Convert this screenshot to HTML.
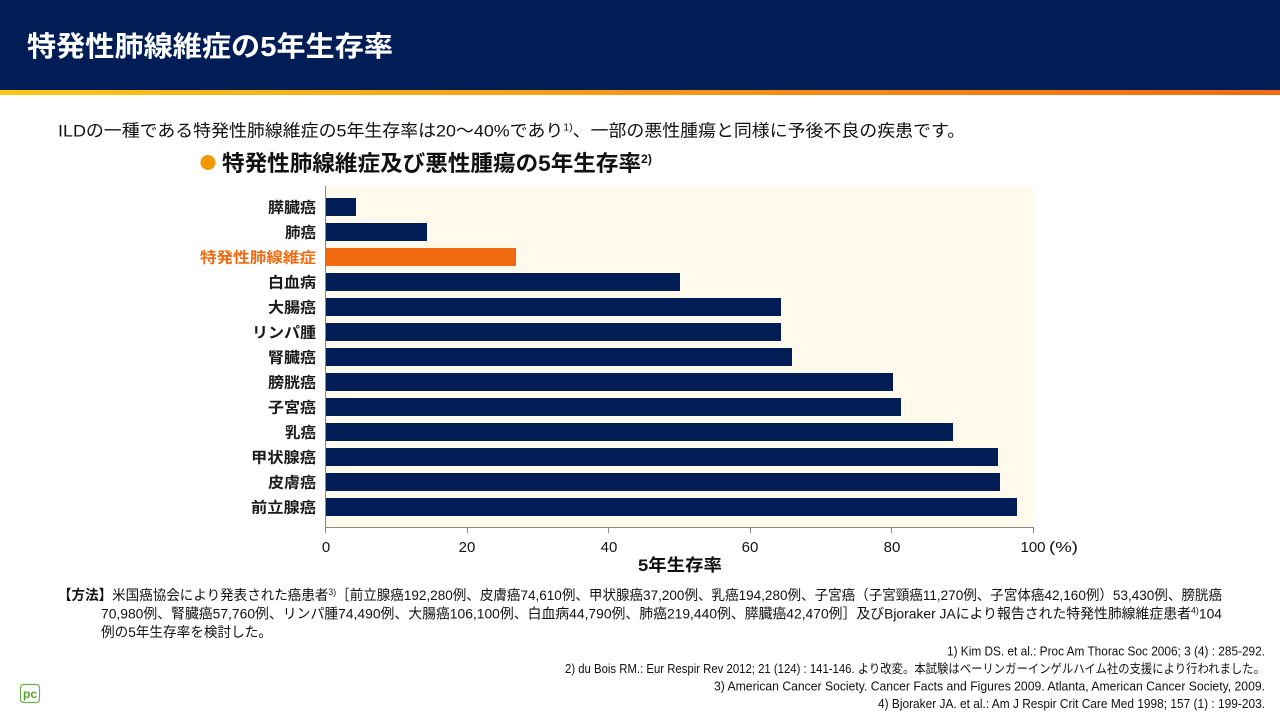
<!DOCTYPE html>
<html>
<head>
<meta charset="utf-8">
<style>
  html,body{margin:0;padding:0;background:#fff;}
  svg{display:block;}
  text{font-family:"Liberation Sans","Noto Sans CJK JP",sans-serif;}
</style>
</head>
<body>
<svg width="1280" height="720" viewBox="0 0 1280 720" xmlns="http://www.w3.org/2000/svg">
  <defs>
    <linearGradient id="stripe" x1="0" y1="0" x2="1" y2="0">
      <stop offset="0" stop-color="#f8c81c"/>
      <stop offset="1" stop-color="#f26a12"/>
    </linearGradient>
  </defs>
  <rect x="0" y="0" width="1280" height="720" fill="#ffffff"/>
  <!-- header -->
  <rect x="0" y="0" width="1280" height="90" fill="#001e55"/>
  <rect x="0" y="90" width="1280" height="5" fill="url(#stripe)"/>
  <text x="27" y="56" font-size="28" font-weight="bold" fill="#ffffff" textLength="366" lengthAdjust="spacingAndGlyphs">特発性肺線維症の5年生存率</text>

  <!-- subtitle -->
  <text x="58" y="136.5" font-size="17" fill="#111" textLength="907" lengthAdjust="spacingAndGlyphs">ILDの一種である特発性肺線維症の5年生存率は20～40%であり<tspan font-size="10" dy="-6">1)</tspan><tspan dy="6">、一部の悪性腫瘍と同様に予後不良の疾患です。</tspan></text>

  <!-- chart title -->
  <circle cx="208" cy="162.5" r="7.5" fill="#f39800"/>
  <text x="222" y="171" font-size="22" font-weight="bold" fill="#111" textLength="430" lengthAdjust="spacingAndGlyphs">特発性肺線維症及び悪性腫瘍の5年生存率<tspan font-size="12" dy="-8">2)</tspan></text>

  <!-- plot -->
  <rect x="326" y="186" width="707" height="341" fill="#fffaeb"/>
  <g fill="#001e55">
    <rect x="326" y="198" width="30" height="18"/>
    <rect x="326" y="223" width="101" height="18"/>
    <rect x="326" y="248" width="190" height="18" fill="#f26a10"/>
    <rect x="326" y="273" width="354" height="18"/>
    <rect x="326" y="298" width="455" height="18"/>
    <rect x="326" y="323" width="455" height="18"/>
    <rect x="326" y="348" width="466" height="18"/>
    <rect x="326" y="373" width="567" height="18"/>
    <rect x="326" y="398" width="575" height="18"/>
    <rect x="326" y="423" width="627" height="18"/>
    <rect x="326" y="448" width="672" height="18"/>
    <rect x="326" y="473" width="674" height="18"/>
    <rect x="326" y="498" width="691" height="18"/>
  </g>
  <!-- axes -->
  <line x1="325.5" y1="186" x2="325.5" y2="528" stroke="#888" stroke-width="1"/>
  <line x1="325" y1="527.5" x2="1034" y2="527.5" stroke="#888" stroke-width="1"/>
  <g stroke="#888" stroke-width="1">
    <line x1="325.5" y1="527" x2="325.5" y2="533"/>
    <line x1="467.5" y1="527" x2="467.5" y2="533"/>
    <line x1="608.5" y1="527" x2="608.5" y2="533"/>
    <line x1="750.5" y1="527" x2="750.5" y2="533"/>
    <line x1="891.5" y1="527" x2="891.5" y2="533"/>
    <line x1="1033.5" y1="527" x2="1033.5" y2="533"/>
  </g>
  <g font-size="15" fill="#111" text-anchor="middle">
    <text x="326" y="552">0</text>
    <text x="467" y="552">20</text>
    <text x="609" y="552">40</text>
    <text x="750" y="552">60</text>
    <text x="892" y="552">80</text>
    <text x="1033" y="552">100</text>
  </g>
  <text x="1049" y="552" font-size="15" fill="#111" textLength="29" lengthAdjust="spacingAndGlyphs">(%)</text>
  <text x="680" y="571" font-size="17" font-weight="bold" fill="#111" text-anchor="middle" textLength="84" lengthAdjust="spacingAndGlyphs">5年生存率</text>

  <!-- category labels -->
  <g font-size="15" font-weight="bold" fill="#1a1a1a" text-anchor="end">
    <text x="316" y="212.5" textLength="48" lengthAdjust="spacingAndGlyphs">膵臓癌</text>
    <text x="316" y="237.5" textLength="31" lengthAdjust="spacingAndGlyphs">肺癌</text>
    <text x="316" y="262.5" textLength="116" lengthAdjust="spacingAndGlyphs" fill="#f06a10">特発性肺線維症</text>
    <text x="316" y="287.5" textLength="48" lengthAdjust="spacingAndGlyphs">白血病</text>
    <text x="316" y="312.5" textLength="48" lengthAdjust="spacingAndGlyphs">大腸癌</text>
    <text x="316" y="337.5" textLength="64" lengthAdjust="spacingAndGlyphs">リンパ腫</text>
    <text x="316" y="362.5" textLength="48" lengthAdjust="spacingAndGlyphs">腎臓癌</text>
    <text x="316" y="387.5" textLength="48" lengthAdjust="spacingAndGlyphs">膀胱癌</text>
    <text x="316" y="412.5" textLength="48" lengthAdjust="spacingAndGlyphs">子宮癌</text>
    <text x="316" y="437.5" textLength="31" lengthAdjust="spacingAndGlyphs">乳癌</text>
    <text x="316" y="462.5" textLength="65" lengthAdjust="spacingAndGlyphs">甲状腺癌</text>
    <text x="316" y="487.5" textLength="48" lengthAdjust="spacingAndGlyphs">皮膚癌</text>
    <text x="316" y="512.5" textLength="65" lengthAdjust="spacingAndGlyphs">前立腺癌</text>
  </g>

  <!-- method -->
  <g font-size="14" fill="#111">
    <text x="58" y="600" textLength="1164" lengthAdjust="spacingAndGlyphs"><tspan font-weight="bold">【方法】</tspan>米国癌協会により発表された癌患者<tspan font-size="9" dy="-5">3)</tspan><tspan dy="5">［前立腺癌192,280例、皮膚癌74,610例、甲状腺癌37,200例、乳癌194,280例、子宮癌（子宮頸癌11,270例、子宮体癌42,160例）53,430例、膀胱癌</tspan></text>
    <text x="101" y="618.5" textLength="1121" lengthAdjust="spacingAndGlyphs">70,980例、腎臓癌57,760例、リンパ腫74,490例、大腸癌106,100例、白血病44,790例、肺癌219,440例、膵臓癌42,470例］及びBjoraker JAにより報告された特発性肺線維症患者<tspan font-size="9" dy="-5">4)</tspan><tspan dy="5">104</tspan></text>
    <text x="101" y="637" textLength="171" lengthAdjust="spacingAndGlyphs">例の5年生存率を検討した。</text>
  </g>

  <!-- references -->
  <g font-size="12.5" fill="#111" text-anchor="end">
    <text x="1265" y="655.5" textLength="318" lengthAdjust="spacingAndGlyphs">1) Kim DS. et al.: Proc Am Thorac Soc 2006; 3 (4) : 285-292.</text>
    <text x="1265" y="673" textLength="700" lengthAdjust="spacingAndGlyphs">2) du Bois RM.: Eur Respir Rev 2012; 21 (124) : 141-146. より改変。本試験はベーリンガーインゲルハイム社の支援により行われました。</text>
    <text x="1265" y="690.5" textLength="551" lengthAdjust="spacingAndGlyphs">3) American Cancer Society. Cancer Facts and Figures 2009. Atlanta, American Cancer Society, 2009.</text>
    <text x="1265" y="708" textLength="387" lengthAdjust="spacingAndGlyphs">4) Bjoraker JA. et al.: Am J Respir Crit Care Med 1998; 157 (1) : 199-203.</text>
  </g>

  <!-- logo -->
  <rect x="20.5" y="684.5" width="19" height="18" rx="3" ry="3" fill="#ffffff" stroke="#6ab04c" stroke-width="1.2"/>
  <text x="30" y="698" font-size="12" font-weight="bold" fill="#5aa02c" text-anchor="middle">pc</text>
</svg>
</body>
</html>
